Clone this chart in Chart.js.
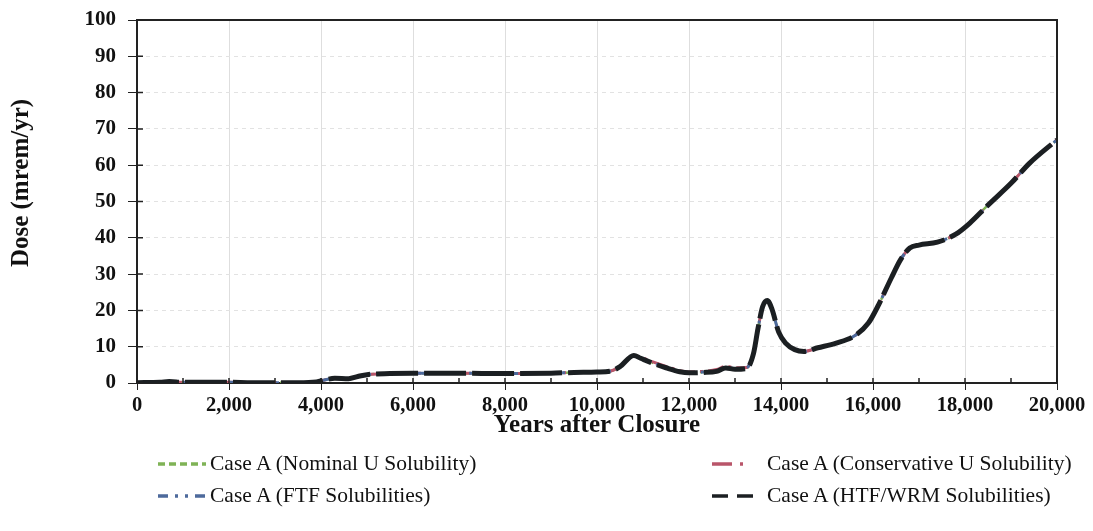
<!DOCTYPE html>
<html>
<head>
<meta charset="utf-8">
<title>Dose vs Years after Closure</title>
<script src="https://cdn.jsdelivr.net/npm/chart.js@4/dist/chart.umd.min.js"></script>
<style>
  body { margin: 0; background: #fff; }
  #wrap { position: relative; width: 1093px; height: 531px; }
  #legend { position: absolute; left: 0; top: 451px; width: 1093px; font-family: "Liberation Serif", "Times New Roman", serif; font-size: 21.5px; color: #111; }
  .item { position: absolute; display: flex; align-items: center; white-space: nowrap; }
</style>
</head>
<body>
<div id="wrap">
  <canvas id="doseChart" width="1093" height="531"></canvas>
  <div id="legend"></div>
</div>
<script>
// years after closure
var years = [0, 500, 700, 1000, 1500, 2000, 2500, 3000, 3500, 3900, 4100, 4300, 4600, 4800, 5000, 5500, 6000, 7000, 8000, 9000, 9500, 10000, 10300, 10500, 10800, 10950, 11200, 11500, 11800, 12000, 12300, 12600, 12800, 13000, 13250, 13400, 13500, 13600, 13700, 13800, 13950, 14100, 14300, 14500, 14800, 15200, 15600, 15900, 16100, 16400, 16600, 16800, 17000, 17400, 17800, 18100, 18500, 19000, 19400, 20000];

// dose (mrem/yr) for each case
var nominalU = [0.1, 0.2, 0.4, 0.2, 0.2, 0.2, 0.1, 0.1, 0.1, 0.3, 0.9, 1.3, 1.2, 1.8, 2.3, 2.6, 2.7, 2.7, 2.6, 2.7, 2.9, 3.0, 3.3, 4.5, 7.6, 6.9, 5.6, 4.3, 3.2, 2.9, 3.0, 3.4, 4.3, 4.0, 4.2, 8.0, 15.0, 21.0, 22.7, 20.5, 14.0, 11.0, 9.2, 8.7, 9.7, 11.0, 13.0, 16.5, 21.0, 29.0, 34.0, 37.2, 38.0, 38.8, 41.0, 44.0, 49.0, 55.0, 60.5, 67.0];
var conservativeU = [0.1, 0.2, 0.4, 0.2, 0.2, 0.2, 0.1, 0.1, 0.1, 0.3, 0.9, 1.3, 1.2, 1.8, 2.3, 2.6, 2.7, 2.7, 2.6, 2.7, 2.9, 3.0, 3.3, 4.5, 7.6, 7.1, 5.9, 4.6, 3.4, 3.0, 3.2, 3.7, 4.6, 4.2, 4.3, 8.0, 15.0, 21.0, 22.7, 20.5, 14.0, 11.0, 9.2, 8.7, 9.7, 11.0, 13.0, 16.5, 21.0, 29.0, 34.0, 37.2, 38.0, 38.8, 41.0, 44.0, 49.0, 55.0, 60.5, 67.0];
var ftfSol = [0.1, 0.2, 0.4, 0.2, 0.2, 0.2, 0.1, 0.1, 0.1, 0.3, 0.9, 1.3, 1.2, 1.8, 2.3, 2.6, 2.7, 2.7, 2.6, 2.7, 2.9, 3.0, 3.3, 4.5, 7.6, 6.9, 5.6, 4.3, 3.2, 2.9, 3.0, 3.4, 4.3, 4.0, 4.2, 8.0, 15.0, 21.0, 22.7, 20.5, 14.0, 11.0, 9.2, 8.7, 9.7, 11.0, 13.0, 16.5, 21.0, 29.0, 34.0, 37.2, 38.0, 38.8, 41.0, 44.0, 49.0, 55.0, 60.5, 67.0];
var htfWrm = [0.1, 0.2, 0.4, 0.2, 0.2, 0.2, 0.1, 0.1, 0.1, 0.3, 0.9, 1.3, 1.2, 1.8, 2.3, 2.6, 2.7, 2.7, 2.6, 2.7, 2.9, 3.0, 3.3, 4.5, 7.6, 6.8, 5.5, 4.2, 3.1, 2.8, 2.9, 3.2, 4.1, 3.8, 4.0, 8.0, 15.0, 21.0, 22.7, 20.5, 14.0, 11.0, 9.2, 8.7, 9.7, 11.0, 13.0, 16.5, 21.0, 29.0, 34.0, 37.2, 38.0, 38.8, 41.0, 44.0, 49.0, 55.0, 60.5, 67.0];

var caseLabels = ["Case A (Nominal U Solubility)", "Case A (Conservative U Solubility)", "Case A (FTF Solubilities)", "Case A (HTF/WRM Solubilities)"];
var xTicks = [0, 2000, 4000, 6000, 8000, 10000, 12000, 14000, 16000, 18000, 20000];
var yTicks = [0, 10, 20, 30, 40, 50, 60, 70, 80, 90, 100];
var yTitle = 'Dose (mrem/yr)';

var serif = "'Liberation Serif', 'Times New Roman', serif";

function toPoints(vals) {
    var pts = [];
    for (var i = 0; i < years.length; i++) {
        pts.push({ x: years[i], y: vals[i] });
    }
    return pts;
}

// line styles for the four cases (black one is drawn on top)
var styles = [
    { color: '#7fb356', dash: [7, 4], width: 2.5, order: 4, key: [7, 4] },
    { color: '#b9556a', dash: [16, 5, 3, 5], width: 3, order: 3, key: [20, 8, 3, 20] },
    { color: '#4d6a9c', dash: [10, 5, 3, 5, 3, 5], width: 3, order: 2, key: [10, 7, 3, 7, 3, 7] },
    { color: '#1b1f22', dash: [42, 6], width: 5, order: 1, key: [16, 9] }
];
var series = [nominalU, conservativeU, ftfSol, htfWrm];

var datasets = [];
for (var i = 0; i < series.length; i++) {
    datasets.push({
        label: caseLabels[i],
        data: toPoints(series[i]),
        borderColor: styles[i].color,
        borderDash: styles[i].dash,
        borderWidth: styles[i].width,
        order: styles[i].order,
        pointRadius: 0,
        fill: false,
        cubicInterpolationMode: 'monotone'
    });
}

// box around the plot, tick marks that cross the axes, and the y title
var framePlugin = {
    id: 'frame',
    afterDatasetsDraw: function (chart) {
        var ctx = chart.ctx;
        var a = chart.chartArea;
        var xs = chart.scales.x;
        var ys = chart.scales.y;
        ctx.save();
        ctx.strokeStyle = '#222';
        ctx.lineWidth = 2;
        ctx.beginPath();
        ctx.moveTo(a.left, a.top);
        ctx.lineTo(a.right, a.top);
        ctx.lineTo(a.right, a.bottom);
        ctx.stroke();
        ctx.lineWidth = 1.5;
        ctx.beginPath();
        for (var v = 1000; v < 20000; v += 2000) { // minor ticks
            var px = xs.getPixelForValue(v);
            ctx.moveTo(px, a.bottom - 5);
            ctx.lineTo(px, a.bottom);
        }
        for (var j = 0; j < xTicks.length; j++) {
            var mx = xs.getPixelForValue(xTicks[j]);
            ctx.moveTo(mx, a.bottom - 5);
            ctx.lineTo(mx, a.bottom);
        }
        for (var k = 0; k < yTicks.length; k++) {
            var py = ys.getPixelForValue(yTicks[k]);
            ctx.moveTo(a.left, py);
            ctx.lineTo(a.left + 6, py);
        }
        ctx.stroke();

        // y title sits a bit above the middle of the axis
        ctx.translate(22, 183);
        ctx.rotate(-Math.PI / 2);
        ctx.fillStyle = '#111';
        ctx.font = 'bold 25px ' + serif;
        ctx.textAlign = 'center';
        ctx.textBaseline = 'middle';
        ctx.fillText(yTitle, 0, 0);
        ctx.restore();
    }
};

var chart = new Chart(document.getElementById('doseChart'), {
    type: 'line',
    data: { datasets: datasets },
    options: {
        responsive: false,
        animation: false,
        devicePixelRatio: 1,
        layout: { padding: { left: 6, right: 36, top: 20, bottom: 90 } },
        plugins: {
            legend: { display: false },
            tooltip: { enabled: false }
        },
        scales: {
            x: {
                type: 'linear',
                min: 0,
                max: 20000,
                afterFit: function (s) { s.height = 58; },
                afterBuildTicks: function (s) { s.ticks = xTicks.map(function (v) { return { value: v }; }); },
                ticks: {
                    color: '#111',
                    font: { family: serif, size: 20.5, weight: 'bold' },
                    padding: 3,
                    maxRotation: 0,
                    callback: function (v) { return v.toLocaleString('en-US'); }
                },
                grid: { color: '#dedede', tickColor: '#222', tickLength: 7, lineWidth: 1 },
                border: { color: '#222', width: 2 },
                title: {
                    display: true,
                    text: 'Years after Closure',
                    color: '#111',
                    font: { family: serif, size: 25, weight: 'bold' },
                    padding: { top: 0, bottom: 0 }
                }
            },
            y: {
                min: 0,
                max: 100,
                afterFit: function (s) { s.width = 131; s.paddingTop = 0; s.paddingBottom = 0; },
                afterBuildTicks: function (s) { s.ticks = yTicks.map(function (v) { return { value: v }; }); },
                ticks: {
                    color: '#111',
                    font: { family: serif, size: 21, weight: 'bold' },
                    padding: 12
                },
                grid: { color: '#e2e2e2', tickColor: '#222', tickLength: 9, lineWidth: 1 },
                border: { color: '#222', width: 2, dash: [4, 4] }
            }
        }
    },
    plugins: [framePlugin]
});

// two-column legend under the axis
var legendPos = [
    { left: 158, top: 0, gap: 4 },
    { left: 712, top: 0, gap: 7 },
    { left: 158, top: 32, gap: 4 },
    { left: 712, top: 32, gap: 7 }
];
var legendBox = document.getElementById('legend');
for (var n = 0; n < datasets.length; n++) {
    var item = document.createElement('div');
    item.className = 'item';
    item.style.left = legendPos[n].left + 'px';
    item.style.top = legendPos[n].top + 'px';
    item.innerHTML = '<svg width="48" height="10" style="margin-right:' + legendPos[n].gap + 'px"><line x1="0" y1="5" x2="48" y2="5" stroke="' +
        styles[n].color + '" stroke-width="3.5" stroke-dasharray="' + styles[n].key.join(' ') + '"/></svg>';
    var span = document.createElement('span');
    span.textContent = caseLabels[n];
    item.appendChild(span);
    legendBox.appendChild(item);
}
</script>
</body>
</html>
